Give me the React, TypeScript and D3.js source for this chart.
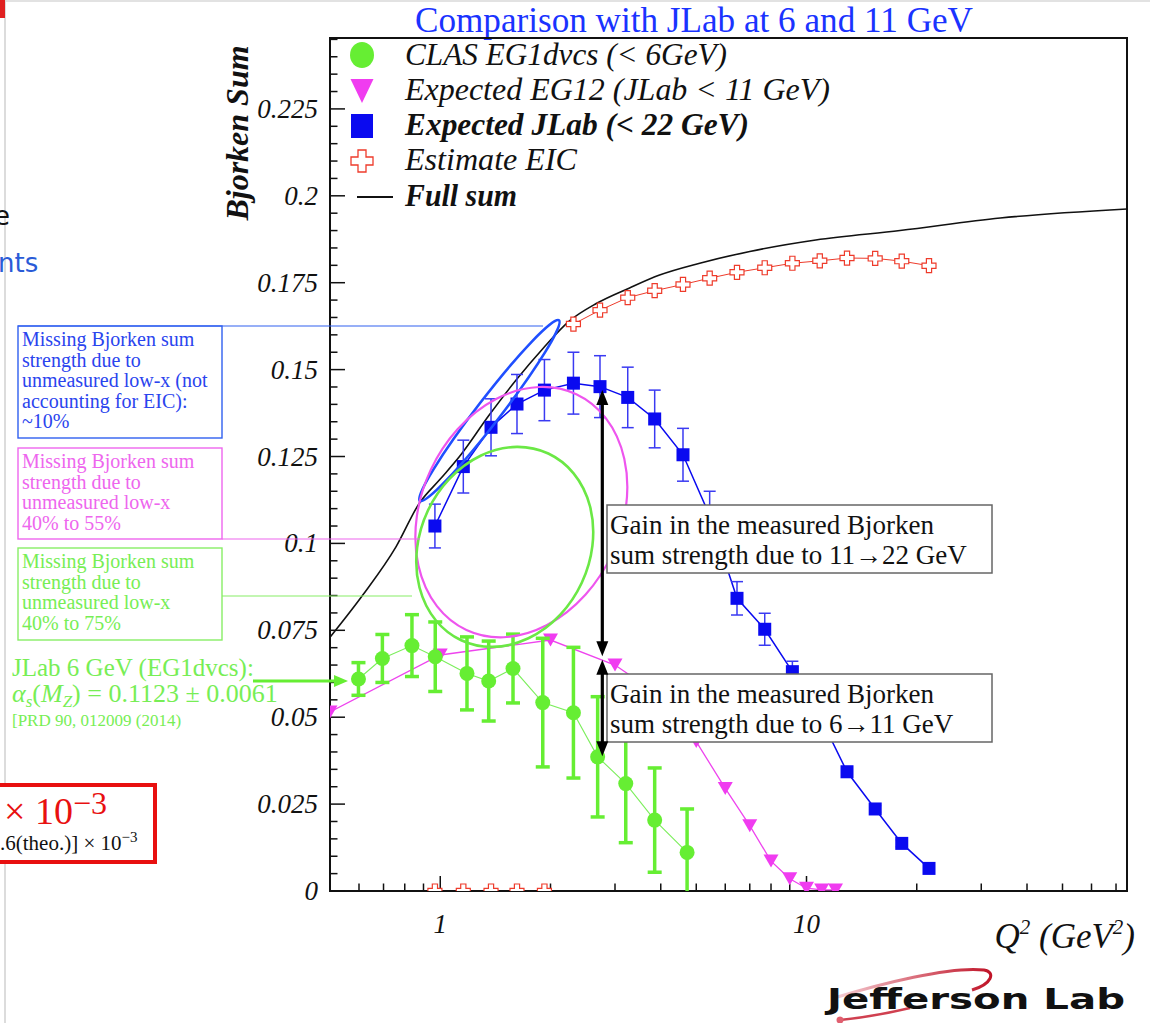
import React from 'react';
import * as d3 from 'd3';

// values: Q^2 (GeV^2) and Bjorken sum

// CLAS EG1dvcs (< 6 GeV)
const clasQ2 = [0.598, 0.695, 0.837, 0.969, 1.183, 1.356, 1.58, 1.905, 2.31, 2.69, 3.21, 3.85, 4.72];
const clasSum = [0.061, 0.0669, 0.0706, 0.0674, 0.0626, 0.0604, 0.064, 0.0542, 0.0513, 0.0386, 0.0309, 0.0204, 0.0111];
const clasErr = [0.0047, 0.0069, 0.0089, 0.01, 0.0105, 0.0115, 0.0099, 0.0185, 0.0188, 0.0173, 0.017, 0.015, 0.0125];

// Expected EG12 (JLab < 11 GeV)
const eg12Q2 = [0.5, 1, 2, 3, 4, 5, 6, 7, 8, 9, 10, 11, 12];
const eg12Sum = [0.0515, 0.0679, 0.0722, 0.065, 0.056, 0.043, 0.0295, 0.0188, 0.0086, 0.0035, 0.0008, 0.0003, 0.0003];

// Expected JLab (< 22 GeV)
const jlabQ2 = [0.967, 1.156, 1.376, 1.62, 1.925, 2.31, 2.73, 3.25, 3.85, 4.6, 5.44, 6.46, 7.69, 9.15, 10.87, 12.9, 15.4, 18.2, 21.6];
const jlabSum = [0.105, 0.1221, 0.1334, 0.1401, 0.1441, 0.1461, 0.1451, 0.142, 0.1358, 0.1255, 0.108, 0.0842, 0.0753, 0.0631, 0.0503, 0.0343, 0.0236, 0.0137, 0.0065];
const jlabErr = [0.0063, 0.0076, 0.0082, 0.0085, 0.0088, 0.0089, 0.0089, 0.0087, 0.0083, 0.0076, 0.007, 0.0048, 0.0046, 0.003, 0.0025, 0.0015, 0.001, 0.001, 0.001];

// Estimate EIC
const eicQ2 = [0.967, 1.156, 1.376, 1.62, 1.925, 2.31, 2.73, 3.25, 3.85, 4.6, 5.44, 6.46, 7.69, 9.15, 10.87, 12.9, 15.4, 18.2, 21.6];
const eicSum = [0, 0, 0, 0, 0, 0.1631, 0.1671, 0.1707, 0.1727, 0.1745, 0.1763, 0.178, 0.1793, 0.1806, 0.1813, 0.1821, 0.182, 0.1812, 0.1799];

// Full sum curve
const fullQ2 = [0.5, 0.613, 0.757, 0.876, 1.0, 1.127, 1.362, 1.611, 1.905, 2.253, 2.666, 3.287, 3.97, 5.11, 7.0, 10.6, 18, 33.8, 75];
const fullSum = [0.073, 0.085, 0.099, 0.1115, 0.1185, 0.1249, 0.137, 0.147, 0.156, 0.164, 0.169, 0.1735, 0.1772, 0.1806, 0.184, 0.1873, 0.19, 0.1936, 0.1962];

// axis ticks
const yTickVals = [0, 0.025, 0.05, 0.075, 0.1, 0.125, 0.15, 0.175, 0.2, 0.225];
const yTickLabels = ['0', '0.025', '0.05', '0.075', '0.1', '0.125', '0.15', '0.175', '0.2', '0.225'];
const xTickVals = [1, 10];
const xTickLabels = ['1', '10'];
const xMinor = [0.6, 0.7, 0.8, 0.9, 2, 3, 4, 5, 6, 7, 8, 9, 20, 30, 40, 50, 60, 70];

// legend entries
const legendLabels = ['CLAS EG1dvcs (< 6GeV)', 'Expected EG12 (JLab < 11 GeV)', 'Expected JLab (< 22 GeV)', 'Estimate EIC', 'Full sum'];

const W = 1150, H = 1023;
const PL = 330, PR = 1127, PT = 38, PB = 891;
const serif = "'Liberation Serif', 'Times New Roman', serif";
const sans = "'DejaVu Sans', Verdana, sans-serif";

const GREEN = '#66ee33';
const MAGENTA = '#ee44ee';
const BLUE = '#0a0af0';
const RED = '#ee3b2b';

const crossPath = (a: number, b: number) =>
  `M${-b},${-a}H${b}V${-b}H${a}V${b}H${b}V${a}H${-b}V${b}H${-a}V${-b}H${-b}Z`;
const triPath = (w: number, h: number) => `M${-w / 2},${-h / 2}H${w / 2}L0,${h / 2}Z`;

type P = [number, number];

export default function App() {
  const x = d3.scaleLog().domain([0.5, 75]).range([PL, PR]);
  const y = d3.scaleLinear().domain([0, 0.2454]).range([PB, PT]);
  const line = d3.line<P>().x(d => x(d[0])).y(d => y(d[1]));
  const smooth = d3.line<P>().x(d => x(d[0])).y(d => y(d[1])).curve(d3.curveMonotoneX);

  const clas = d3.zip(clasQ2, clasSum) as P[];
  const eg12 = d3.zip(eg12Q2, eg12Sum) as P[];
  const jlab = d3.zip(jlabQ2, jlabSum) as P[];
  const eic = d3.zip(eicQ2, eicSum) as P[];
  const full = d3.zip(fullQ2, fullSum) as P[];

  const yMinor = d3.range(0, 50).map(i => i * 0.005);

  // hand-drawn ellipses of the slide, centred in data coordinates
  const rings = [
    { q: 1.362, v: 0.1382, rx: 114, ry: 12, rot: -52.4, c: '#1f4fff', w: 2.6 },
    { q: 1.665, v: 0.109, rx: 100, ry: 130, rot: 25, c: '#ee55ee', w: 2.2 },
    { q: 1.5, v: 0.099, rx: 85, ry: 103, rot: 25, c: '#6be845', w: 2.6 },
  ];

  const arrowQ = 2.77;
  const arrows = [
    [0.1441, 0.0675],
    [0.0665, 0.0388],
  ];

  const sideBoxes = [
    { x: 18, y: 326, w: 204, h: 112, c: '#3060f0', tc: '#2a44ee',
      lines: ['Missing Bjorken sum', 'strength due to', 'unmeasured low-x (not', 'accounting for EIC):', '~10%'] },
    { x: 18, y: 448, w: 204, h: 91, c: '#ee66ee', tc: '#ee66ee',
      lines: ['Missing Bjorken sum', 'strength due to', 'unmeasured low-x', '40% to 55%'] },
    { x: 18, y: 548, w: 204, h: 92, c: '#88ee66', tc: '#77ee55',
      lines: ['Missing Bjorken sum', 'strength due to', 'unmeasured low-x', '40% to 75%'] },
  ];

  const gainBoxes = [
    { y: 505, lines: ['Gain in the measured Bjorken', 'sum strength due to 11\u219222 GeV'] },
    { y: 674, lines: ['Gain in the measured Bjorken', 'sum strength due to 6\u219211 GeV'] },
  ];

  const legendW = [322, 425, 344, 172, 112];
  const legendY = [65, 100, 135, 170, 206];

  return (
    <svg width={W} height={H} style={{ position: 'absolute', left: 0, top: 0, background: '#fff' }}>
      <defs>
        <clipPath id="plot">
          <rect x={PL} y={PT} width={PR - PL} height={PB - PT} />
        </clipPath>
        <linearGradient id="swoosh" x1="0" x2="1" y1="0" y2="0">
          <stop offset="0" stopColor="#f6d0d6" />
          <stop offset="1" stopColor="#c01428" />
        </linearGradient>
      </defs>

      {/* slide leftovers */}
      <line x1={0} x2={W} y1={1} y2={1} stroke="#e2e2e2" strokeWidth={2} />
      <line x1={5} x2={5} y1={0} y2={H} stroke="#dcdcdc" strokeWidth={2} />
      <rect x={0} y={0} width={5} height={18} fill="#e02020" />
      <text x={-6} y={225} fontFamily={sans} fontSize={26} fill="#111">e</text>
      <text x={-2} y={272} fontFamily={sans} fontSize={26} fill="#2a5bd7">nts</text>

      {/* title */}
      <text x={694} y={32} textAnchor="middle" fontFamily={serif} fontSize={35} fill="#1a33ff" textLength={558} lengthAdjust="spacingAndGlyphs">
        Comparison with JLab at 6 and 11 GeV
      </text>

      {/* frame and ticks */}
      <rect x={PL} y={PT} width={PR - PL} height={PB - PT} fill="none" stroke="#111" strokeWidth={2} />
      {yMinor.map((v, i) => (
        <line key={'ym' + i} x1={PL} x2={PL + (i % 5 === 0 ? 15 : 7.5)} y1={y(v)} y2={y(v)} stroke="#111" strokeWidth={1.5} />
      ))}
      {xMinor.map(v => (
        <line key={'xm' + v} x1={x(v)} x2={x(v)} y1={PB} y2={PB - 7.5} stroke="#111" strokeWidth={1.5} />
      ))}
      {xTickVals.map(v => (
        <line key={'xM' + v} x1={x(v)} x2={x(v)} y1={PB} y2={PB - 15} stroke="#111" strokeWidth={1.5} />
      ))}
      {yTickVals.map((v, i) => (
        <text key={'yl' + i} x={318} y={y(v) + 9} textAnchor="end" fontFamily={serif} fontStyle="italic" fontSize={27} fill="#111">
          {yTickLabels[i]}
        </text>
      ))}
      {xTickVals.map((v, i) => (
        <text key={'xl' + i} x={x(v)} y={933} textAnchor="middle" fontFamily={serif} fontStyle="italic" fontSize={27} fill="#111">
          {xTickLabels[i]}
        </text>
      ))}
      <text transform="translate(248,133) rotate(-90)" textAnchor="middle" fontFamily={serif} fontStyle="italic" fontWeight="bold" fontSize={32} fill="#111">
        Bjorken Sum
      </text>
      <text x={1135} y={948} textAnchor="end" fontFamily={serif} fontStyle="italic" fontSize={35} fill="#111">
        <tspan>Q</tspan>
        <tspan dy={-14} fontSize={21}>2</tspan>
        <tspan dy={14}> (GeV</tspan>
        <tspan dy={-14} fontSize={21}>2</tspan>
        <tspan dy={14}>)</tspan>
      </text>

      {/* data */}
      <g clipPath="url(#plot)">
        <path d={smooth(full) ?? ''} fill="none" stroke="#111" strokeWidth={1.6} />

        <path d={line(eic.filter(d => d[1] > 0)) ?? ''} fill="none" stroke={RED} strokeWidth={1} />
        {eic.map((d, i) => (
          <path key={'eic' + i} d={crossPath(7, 2.6)} transform={`translate(${x(d[0])},${y(d[1])})`} fill="#fff" stroke={RED} strokeWidth={1.2} />
        ))}

        <path d={line(eg12) ?? ''} fill="none" stroke={MAGENTA} strokeWidth={1.3} />
        {eg12.map((d, i) => (
          <path key={'eg' + i} d={triPath(15, 13)} transform={`translate(${x(d[0])},${y(d[1])})`} fill="#f03cf0" />
        ))}

        <path d={line(clas) ?? ''} fill="none" stroke="#7cee5c" strokeWidth={1.1} />
        {clas.map((d, i) => {
          const cx = x(d[0]);
          const t = y(d[1] + clasErr[i]);
          const b = y(d[1] - clasErr[i]);
          return (
            <g key={'cl' + i} stroke={GREEN} strokeWidth={3.5}>
              <line x1={cx} x2={cx} y1={t} y2={b} />
              <line x1={cx - 7} x2={cx + 7} y1={t} y2={t} />
              <line x1={cx - 7} x2={cx + 7} y1={b} y2={b} />
              <circle cx={cx} cy={y(d[1])} r={7.5} fill={GREEN} stroke="none" />
            </g>
          );
        })}

        <path d={line(jlab) ?? ''} fill="none" stroke={BLUE} strokeWidth={1.5} />
        {jlab.map((d, i) => {
          const cx = x(d[0]);
          const t = y(d[1] + jlabErr[i]);
          const b = y(d[1] - jlabErr[i]);
          return (
            <g key={'jl' + i} stroke="#3a3af2" strokeWidth={1.5}>
              <line x1={cx} x2={cx} y1={t} y2={b} />
              <line x1={cx - 6} x2={cx + 6} y1={t} y2={t} />
              <line x1={cx - 6} x2={cx + 6} y1={b} y2={b} />
              <rect x={cx - 6.5} y={y(d[1]) - 6.5} width={13} height={13} fill={BLUE} stroke="none" />
            </g>
          );
        })}
      </g>

      {/* annotation ellipses */}
      {rings.map((r, i) => (
        <ellipse key={'ring' + i} cx={0} cy={0} rx={r.rx} ry={r.ry} fill="none" stroke={r.c} strokeWidth={r.w}
          transform={`translate(${x(r.q)},${y(r.v)}) rotate(${r.rot})`} />
      ))}

      {/* side boxes and connectors */}
      <line x1={18} x2={543} y1={326} y2={326} stroke="#3060f0" strokeWidth={1.2} />
      <line x1={222} x2={420} y1={539} y2={539} stroke="#ee66ee" strokeWidth={1.2} />
      <line x1={222} x2={412} y1={596} y2={596} stroke="#88ee66" strokeWidth={1.2} />
      {sideBoxes.map((b, i) => (
        <g key={'sb' + i}>
          <rect x={b.x} y={b.y} width={b.w} height={b.h} fill="none" stroke={b.c} strokeWidth={1.4} />
          {b.lines.map((t, j) => (
            <text key={j} x={b.x + 4} y={b.y + 20 + j * 20.5} fontFamily={serif} fontSize={20} fill={b.tc}>{t}</text>
          ))}
        </g>
      ))}

      {/* JLab 6 GeV note */}
      <text x={12} y={676} fontFamily={serif} fontSize={25} fill="#77ee55">JLab 6 GeV (EG1dvcs):</text>
      <line x1={253} x2={336} y1={681} y2={681} stroke={GREEN} strokeWidth={3} />
      <path d="M348,681 L334,675 L334,687 Z" fill={GREEN} />
      <text x={12} y={702} fontFamily={serif} fontSize={26} fill="#77ee55">
        <tspan fontStyle="italic">α</tspan>
        <tspan dy={5} fontSize={17} fontStyle="italic">s</tspan>
        <tspan dy={-5}>(</tspan>
        <tspan fontStyle="italic">M</tspan>
        <tspan dy={5} fontSize={17} fontStyle="italic">Z</tspan>
        <tspan dy={-5}>) = 0.1123 ± 0.0061</tspan>
      </text>
      <text x={12} y={726} fontFamily={serif} fontSize={17} fill="#77ee55">[PRD 90, 012009 (2014)</text>

      {/* red result box, cut by the slide edge */}
      <rect x={-10} y={785} width={165} height={77} fill="#fff" stroke="#e81010" strokeWidth={4} />
      <text x={4} y={824} fontFamily={serif} fontSize={38} fill="#e81010">
        <tspan>× 10</tspan>
        <tspan dy={-10} fontSize={32}>−3</tspan>
      </text>
      <text x={0} y={850} fontFamily={serif} fontSize={21} fill="#111">
        <tspan>.6(theo.)] × 10</tspan>
        <tspan dy={-8} fontSize={15}>−3</tspan>
      </text>

      {/* gain boxes */}
      {gainBoxes.map((b, i) => (
        <g key={'gb' + i}>
          <rect x={607} y={b.y} width={385} height={68} fill="#fff" stroke="#666" strokeWidth={1.5} />
          {b.lines.map((t, j) => (
            <text key={j} x={610} y={b.y + 29 + j * 30} fontFamily={serif} fontSize={27} fill="#111">{t}</text>
          ))}
        </g>
      ))}

      {/* double-headed arrows */}
      {arrows.map((a, i) => {
        const ax = x(arrowQ);
        const t = y(a[0]);
        const b = y(a[1]);
        return (
          <g key={'ar' + i}>
            <line x1={ax} x2={ax} y1={t + 10} y2={b - 10} stroke="#000" strokeWidth={3.2} />
            <path d={`M${ax},${t} L${ax - 6},${t + 15} L${ax + 6},${t + 15} Z`} fill="#000" />
            <path d={`M${ax},${b} L${ax - 6},${b - 15} L${ax + 6},${b - 15} Z`} fill="#000" />
          </g>
        );
      })}

      {/* legend */}
      <g fontFamily={serif} fontSize={31} fill="#111" fontStyle="italic">
        <ellipse cx={362} cy={55} rx={12} ry={13} fill={GREEN} />
        <path d={triPath(23, 24)} transform="translate(362,91)" fill="#f03cf0" />
        <rect x={351} y={114} width={22} height={24} fill={BLUE} />
        <path d={crossPath(11, 4)} transform="translate(362,161)" fill="#fff" stroke={RED} strokeWidth={1.3} />
        <line x1={357} x2={393} y1={197} y2={197} stroke="#111" strokeWidth={2} />
        {legendLabels.map((t, i) => (
          <text key={'lg' + i} x={405} y={legendY[i]} fontWeight={i === 2 || i === 4 ? 'bold' : 'normal'}
            textLength={legendW[i]} lengthAdjust="spacingAndGlyphs">{t}</text>
        ))}
      </g>

      {/* Jefferson Lab logo */}
      <path d="M834,998 C880,984 950,966 984,970 C996,972 992,984 972,990" fill="none" stroke="url(#swoosh)" strokeWidth={3} />
      <path d="M840,1020 C860,1018 885,1014 910,1008" fill="none" stroke="#d04050" strokeWidth={2.5} />
      <circle cx={840} cy={1020} r={3.5} fill="#e06070" />
      <text x={827} y={1009} fontFamily={sans} fontWeight="bold" fontSize={29} fill="#111" textLength={298} lengthAdjust="spacingAndGlyphs">
        Jefferson Lab
      </text>
    </svg>
  );
}
